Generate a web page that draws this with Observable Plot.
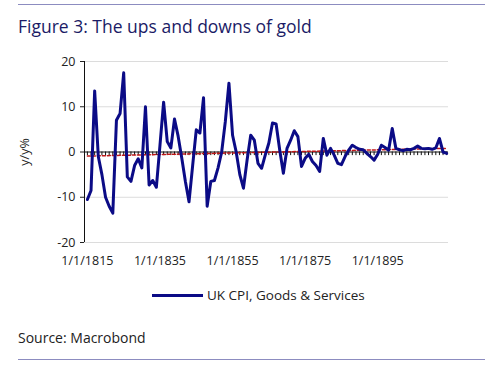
<!DOCTYPE html>
<html>
<head>
<meta charset="utf-8">
<script src="https://cdn.jsdelivr.net/npm/d3@7"></script>
<script src="https://cdn.jsdelivr.net/npm/@observablehq/plot@0.6"></script>
<style>
  html, body { margin: 0; padding: 0; background: #fff; }
  #wrap { position: relative; width: 500px; height: 366px; overflow: hidden; font-family: "Open Sans", "Noto Sans", sans-serif; }
  .rule { position: absolute; left: 18px; width: 467px; height: 1px; background: #8c8cc0; }
  #title { position: absolute; left: 18px; top: 14px; font-size: 17.5px; color: #1b1b66; white-space: nowrap; }
  #chart { position: absolute; left: 0; top: 50px; }
  #legend { position: absolute; left: 152px; top: 286px; font-size: 13.5px; color: #222; display: flex; align-items: center; white-space: nowrap; }
  #legend .sw { width: 51px; height: 3px; background: #0b0b86; margin-right: 4px; }
  #source { position: absolute; left: 18px; top: 328px; font-size: 14px; color: #222; }
</style>
</head>
<body>
<div id="wrap">
  <div class="rule" style="top:4px"></div>
  <div id="title">Figure 3: The ups and downs of gold</div>
  <div id="chart"></div>
  <div id="legend"><div class="sw"></div><span>UK CPI, Goods &amp; Services</span></div>
  <div id="source">Source: Macrobond</div>
  <div class="rule" style="top:359px"></div>
</div>
<script>
// Data (UK CPI, y/y %, annual)
const startYear = 1815;
const cpiValues = [
  -10.5, -8.5, 13.5, -1, -5, -10, -12, -13.5, 7, 8.5,
  17.5, -5.5, -6.5, -3, -1.5, -3.5, 10, -7.3, -6.3, -7.8,
  1.5, 11, 2.3, 0.9, 7.3, 3.5, -1.3, -6.5, -11, -3,
  4.9, 4.2, 12, -12, -6.5, -6.3, -3.5, 0, 6.7, 15.2,
  3.7, 0, -5, -8, -1.8, 3.7, 2.6, -2.5, -3.6, -0.7,
  2, 6.4, 6.2, 0.4, -4.7, 0.8, 2.6, 4.7, 3.4, -3.2,
  -1.4, -0.5, -2.1, -3, -4.3, 3, -0.7, 0.8, -0.7, -2.5,
  -2.8, -1, 0.4, 1.5, 1, 0.6, 0.5, -0.3, -1, -1.8,
  -0.5, 1.5, 1, 0.4, 5.2, 0.8, 0.5, 0.3, 0.6, 0.5,
  0.8, 1.3, 0.8, 0.7, 0.8, 0.6, 0.9, 3, 0, -0.3
];
const years = cpiValues.map((_, i) => startYear + i);
const trendYears = [1815, 1914];
const trendValues = [-0.9, 0.8];
const xTicks = [1815, 1835, 1855, 1875, 1895];
const yTicks = [-20, -10, 0, 10, 20];
const xDomain = [1814.2, 1914.5];
const yDomain = [-20, 20];

const series = years.map((y, i) => ({year: y, value: cpiValues[i]}));
const trend = trendYears.map((y, i) => ({year: y, value: trendValues[i]}));

const chart = Plot.plot({
  width: 500,
  height: 225,
  marginLeft: 84,
  marginRight: 52,
  marginTop: 11,
  marginBottom: 33,
  style: {fontFamily: "'Open Sans', 'Noto Sans', sans-serif", fontSize: "12.5px", color: "#222", background: "transparent"},
  x: {domain: xDomain},
  y: {domain: yDomain},
  marks: [
    Plot.ruleY(yTicks.filter(d => d !== 0), {stroke: "#dcdcdc", strokeWidth: 1}),
    Plot.ruleX([xDomain[0]], {y1: yDomain[0], y2: yDomain[1], stroke: "#111", strokeWidth: 1}),
    Plot.axisY({ticks: yTicks, tickSize: 4, tickPadding: 5, tickFormat: d => String(d), label: "y/y%", labelAnchor: "center", labelArrow: "none", labelOffset: 64, fontSize: 12.5}),
    Plot.axisX({ticks: xTicks, tickSize: 0, tickPadding: 14, tickFormat: d => `1/1/${d}`, label: null, fontSize: 12.5}),
    Plot.ruleY([0], {stroke: "#111", strokeWidth: 1}),
    Plot.ruleX(years, {x: d => d, y1: 0, y2: -0.8, stroke: "#111", strokeWidth: 1}),
    Plot.line(trend, {x: "year", y: "value", stroke: "#c01818", strokeWidth: 1.5, strokeDasharray: "3,2"}),
    Plot.line(series, {x: "year", y: "value", stroke: "#0b0b86", strokeWidth: 3, strokeLinejoin: "round"})
  ]
});
document.getElementById("chart").appendChild(chart);
</script>
</body>
</html>
